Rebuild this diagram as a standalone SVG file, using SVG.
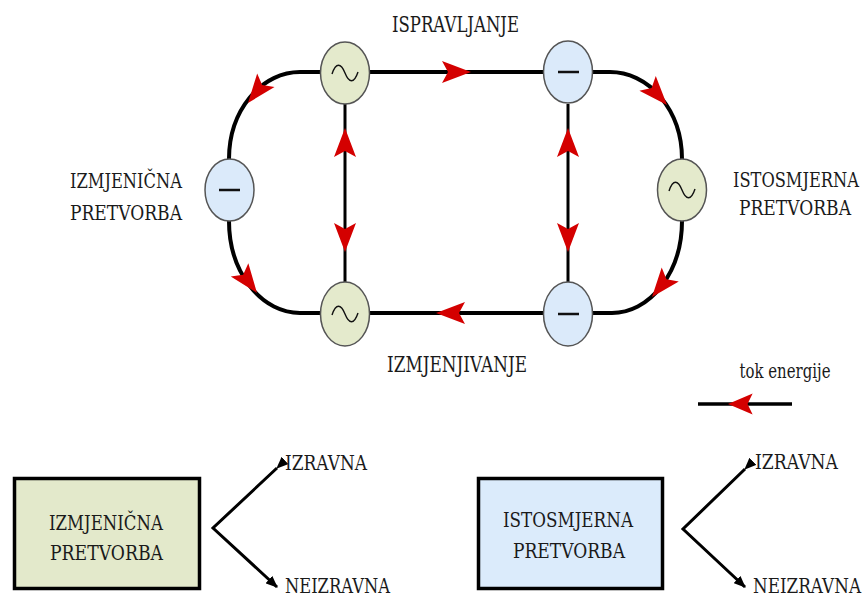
<svg xmlns="http://www.w3.org/2000/svg" width="866" height="597" viewBox="0 0 866 597">
<defs>
<style>
.loop{fill:none;stroke:#000;stroke-width:4}
.vl{fill:none;stroke:#000;stroke-width:3}
.ac{fill:#e4eacc;stroke:#555;stroke-width:1.5}
.dc{fill:#dbeafa;stroke:#555;stroke-width:1.5}
.sine{fill:none;stroke:#111;stroke-width:1.4}
.dash{stroke:#111;stroke-width:2.5}
.red{fill:#d40000}
.blk{fill:none;stroke:#000;stroke-width:3}
.tx{font-family:"DejaVu Serif","Liberation Serif",serif;font-size:21px;fill:#1a1a1a}
.tr{font-size:20px}
</style>
<path id="ah" d="M0,0 L-29,-11 L-23,0 L-29,11 Z"/>
<marker id="bk" viewBox="0 0 12 10" refX="11" refY="5" markerWidth="12" markerHeight="10" markerUnits="userSpaceOnUse" orient="auto">
<path d="M0,0 L12,5 L0,10 Z" fill="#000"/>
</marker>
</defs>
<rect width="866" height="597" fill="#fff"/>
<g id="connectors">
<path class="loop" d="M321,72 H300 A71,87 0 0 0 229,159"/>
<path class="loop" d="M229,221 A71,92 0 0 0 300,313 H321"/>
<path class="loop" d="M369,72 H544"/>
<path class="loop" d="M369,313 H544"/>
<path class="loop" d="M592,72 H610 A72,87 0 0 1 682,159"/>
<path class="loop" d="M682,221 A70,92 0 0 1 612,313 H592"/>
<path class="vl" d="M345,104 V282"/>
<path class="vl" d="M568,104 V282"/>
<use href="#ah" class="red" transform="translate(248,103) rotate(128)"/>
<use href="#ah" class="red" transform="translate(471,72)"/>
<use href="#ah" class="red" transform="translate(667,105) rotate(48)"/>
<use href="#ah" class="red" transform="translate(652,297) rotate(129)"/>
<use href="#ah" class="red" transform="translate(436,313) rotate(180)"/>
<use href="#ah" class="red" transform="translate(257,293) rotate(53)"/>
<use href="#ah" class="red" transform="translate(345,128) rotate(-90)"/>
<use href="#ah" class="red" transform="translate(345,252) rotate(90)"/>
<use href="#ah" class="red" transform="translate(568,128) rotate(-90)"/>
<use href="#ah" class="red" transform="translate(568,252) rotate(90)"/>
<path class="blk" d="M277,468 L213,528 L277,587" marker-start="url(#bk)" marker-end="url(#bk)"/>
<path class="blk" d="M745,469 L683,529 L745,587" marker-start="url(#bk)" marker-end="url(#bk)"/>
</g>
<g id="legend">
<path d="M698,404 H792" stroke="#000" stroke-width="3.5"/>
<use href="#ah" class="red" transform="translate(728,404) rotate(180) scale(0.85,0.95)"/>
<text class="tx" x="785" y="378" text-anchor="middle" textLength="91" lengthAdjust="spacingAndGlyphs" style="font-size:20px">tok energije</text>
</g>
<g id="node-ac-top">
<ellipse class="ac" cx="345" cy="73" rx="24.5" ry="31"/>
<path class="sine" d="M332,74 C336,62 341,63 345,73 C349,83 354,84 358,72"/>
</g>
<g id="node-dc-top">
<ellipse class="dc" cx="568" cy="72" rx="24.5" ry="31"/>
<path class="dash" d="M558,72 H579"/>
</g>
<g id="node-dc-left">
<ellipse class="dc" cx="229.5" cy="190" rx="24.5" ry="31"/>
<path class="dash" d="M219,190 H240"/>
</g>
<g id="node-ac-right">
<ellipse class="ac" cx="682" cy="190" rx="24.5" ry="31"/>
<path class="sine" d="M669,191 C673,179 678,180 682,190 C686,200 691,201 695,189"/>
</g>
<g id="node-ac-bottom">
<ellipse class="ac" cx="345" cy="314" rx="24.5" ry="32"/>
<path class="sine" d="M332,315 C336,303 341,304 345,314 C349,324 354,325 358,313"/>
</g>
<g id="node-dc-bottom">
<ellipse class="dc" cx="568" cy="314" rx="24.5" ry="32"/>
<path class="dash" d="M558,314 H579"/>
</g>
<g id="labels">
<text class="tx" style="font-size:23px" x="455.5" y="32" text-anchor="middle" textLength="127" lengthAdjust="spacingAndGlyphs">ISPRAVLJANJE</text>
<text class="tx" style="font-size:23px" x="457" y="372" text-anchor="middle" textLength="140" lengthAdjust="spacingAndGlyphs">IZMJENJIVANJE</text>
<text class="tx" x="126" y="188" text-anchor="middle" textLength="112" lengthAdjust="spacingAndGlyphs">IZMJENIČNA</text>
<text class="tx" x="126" y="220" text-anchor="middle" textLength="112" lengthAdjust="spacingAndGlyphs">PRETVORBA</text>
<text class="tx tr" x="796" y="187" text-anchor="middle" textLength="126" lengthAdjust="spacingAndGlyphs">ISTOSMJERNA</text>
<text class="tx tr" x="795" y="215" text-anchor="middle" textLength="112" lengthAdjust="spacingAndGlyphs">PRETVORBA</text>
</g>
<g id="box-ac">
<rect x="14.5" y="478.5" width="185" height="110" fill="#e3e9cb" stroke="#000" stroke-width="3.5"/>
<text class="tx" x="106" y="530" text-anchor="middle" textLength="114" lengthAdjust="spacingAndGlyphs">IZMJENIČNA</text>
<text class="tx" x="106.5" y="560" text-anchor="middle" textLength="113" lengthAdjust="spacingAndGlyphs">PRETVORBA</text>
</g>
<g id="box-dc">
<rect x="478.5" y="478.5" width="184" height="110" fill="#dbebfb" stroke="#000" stroke-width="3.5"/>
<text class="tx" x="568" y="527" text-anchor="middle" textLength="130" lengthAdjust="spacingAndGlyphs">ISTOSMJERNA</text>
<text class="tx" x="569" y="558" text-anchor="middle" textLength="112" lengthAdjust="spacingAndGlyphs">PRETVORBA</text>
</g>
<g id="branch-labels">
<text class="tx" x="285" y="470" textLength="82" lengthAdjust="spacingAndGlyphs">IZRAVNA</text>
<text class="tx" x="285" y="593" textLength="105" lengthAdjust="spacingAndGlyphs">NEIZRAVNA</text>
<text class="tx" x="755" y="469" textLength="83" lengthAdjust="spacingAndGlyphs">IZRAVNA</text>
<text class="tx tr" x="753" y="593" textLength="108" lengthAdjust="spacingAndGlyphs">NEIZRAVNA</text>
</g>
</svg>
